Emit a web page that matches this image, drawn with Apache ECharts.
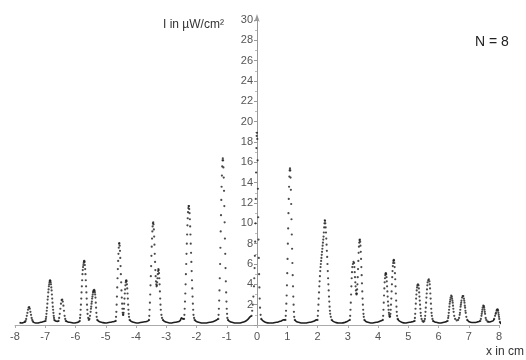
<!DOCTYPE html>
<html>
<head>
<meta charset="utf-8">
<script src="https://cdn.jsdelivr.net/npm/echarts@6/dist/echarts.min.js"></script>
<style>
  html, body { margin: 0; padding: 0; background: #fff; }
  #chart { width: 526px; height: 360px; }
</style>
</head>
<body>
<div id="chart"></div>
<script>
// x in cm, I in uW/cm^2
const peakA = [[-7.67,0.3],[-7.65,0.4],[-7.63,0.6],[-7.61,0.9],[-7.59,1.2],[-7.57,1.5],[-7.55,1.7],[-7.53,1.75],[-7.51,1.6],[-7.49,1.3],[-7.47,1.0],[-7.45,0.7],[-7.43,0.5],[-7.41,0.35]];
const peakB = [[-6.99,0.4],[-6.98,0.6],[-6.97,0.8],[-6.96,1.1],[-6.95,1.4],[-6.94,1.7],[-6.93,2.1],[-6.92,2.5],[-6.91,2.8],[-6.90,3.2],[-6.89,3.5],[-6.88,3.8],[-6.87,4.0],[-6.86,4.2],[-6.85,4.35],[-6.84,4.4],[-6.83,4.35],[-6.82,4.2],[-6.81,4.0],[-6.80,3.7],[-6.79,3.4],[-6.78,3.0],[-6.77,2.6],[-6.76,2.2],[-6.75,1.8],[-6.74,1.5],[-6.73,1.2],[-6.72,0.9],[-6.71,0.7],[-6.70,0.5]];
const peakC = [[-6.56,0.4],[-6.54,0.7],[-6.52,1.1],[-6.50,1.6],[-6.48,2.1],[-6.46,2.45],[-6.44,2.5],[-6.42,2.3],[-6.40,1.9],[-6.38,1.4],[-6.36,0.9],[-6.34,0.6],[-6.32,0.4]];
const peakDE = [[-5.86,0.4],[-5.85,0.7],[-5.84,1.0],[-5.83,1.5],[-5.82,2.0],[-5.81,2.6],[-5.80,3.2],[-5.79,3.8],[-5.78,4.4],[-5.77,5.0],[-5.76,5.4],[-5.75,5.7],[-5.74,5.9],[-5.73,6.1],[-5.72,6.25],[-5.71,6.3],[-5.70,6.2],[-5.69,5.9],[-5.68,5.5],[-5.67,5.0],[-5.66,4.4],[-5.65,3.8],[-5.64,3.2],[-5.63,2.6],[-5.62,2.0],[-5.61,1.5],[-5.60,1.1],[-5.58,0.7],[-5.56,0.5],[-5.54,0.6],[-5.52,0.9],[-5.50,1.3],[-5.49,1.6],[-5.48,1.8],[-5.47,2.1],[-5.46,2.3],[-5.45,2.6],[-5.44,2.8],[-5.43,3.0],[-5.42,3.2],[-5.41,3.3],[-5.40,3.4],[-5.38,3.45],[-5.37,3.35],[-5.36,3.2],[-5.35,3.0],[-5.34,2.7],[-5.33,2.2],[-5.32,1.7],[-5.31,1.2],[-5.30,0.8],[-5.28,0.5]];
const peakFG = [[-4.67,0.4],[-4.66,0.8],[-4.65,1.3],[-4.64,2.0],[-4.63,2.8],[-4.62,3.7],[-4.61,4.6],[-4.60,5.5],[-4.59,6.3],[-4.58,7.0],[-4.57,7.6],[-4.56,8.0],[-4.55,8.05],[-4.54,7.8],[-4.53,7.3],[-4.52,6.6],[-4.51,5.8],[-4.50,5.0],[-4.49,4.2],[-4.48,3.4],[-4.47,2.7],[-4.46,2.1],[-4.45,1.6],[-4.44,1.2],[-4.43,1.0],[-4.42,1.0],[-4.41,1.2],[-4.40,1.6],[-4.39,2.1],[-4.38,2.6],[-4.37,3.1],[-4.36,3.5],[-4.35,3.9],[-4.34,4.2],[-4.33,4.35],[-4.32,4.4],[-4.31,4.3],[-4.30,4.0],[-4.29,3.6],[-4.28,3.1],[-4.27,2.6],[-4.26,2.0],[-4.25,1.5],[-4.24,1.1],[-4.23,0.8],[-4.21,0.5]];
const peakHI = [[-3.57,0.5],[-3.56,0.9],[-3.55,1.5],[-3.54,2.2],[-3.53,3.0],[-3.52,3.9],[-3.51,4.8],[-3.50,5.8],[-3.49,6.8],[-3.48,7.7],[-3.47,8.5],[-3.46,9.2],[-3.45,9.7],[-3.44,10.0],[-3.43,10.1],[-3.42,9.9],[-3.41,9.4],[-3.40,8.7],[-3.39,7.9],[-3.38,7.0],[-3.37,6.2],[-3.36,5.4],[-3.35,4.8],[-3.34,4.3],[-3.33,4.0],[-3.32,3.8],[-3.31,3.9],[-3.30,4.2],[-3.29,4.6],[-3.28,5.0],[-3.27,5.3],[-3.26,5.5],[-3.25,5.4],[-3.24,5.1],[-3.23,4.6],[-3.22,4.0],[-3.21,3.3],[-3.20,2.6],[-3.19,2.0],[-3.18,1.5],[-3.16,1.0],[-3.14,0.7],[-3.11,0.5]];
const peakJ = [[-2.41,0.6],[-2.40,1.0],[-2.39,1.6],[-2.38,2.3],[-2.37,3.1],[-2.36,4.0],[-2.35,5.0],[-2.34,6.0],[-2.33,7.0],[-2.32,8.0],[-2.31,8.9],[-2.30,9.8],[-2.29,10.5],[-2.28,11.1],[-2.27,11.5],[-2.26,11.7],[-2.25,11.7],[-2.24,11.4],[-2.23,11.0],[-2.22,10.4],[-2.21,9.7],[-2.20,8.9],[-2.19,8.0],[-2.18,7.1],[-2.17,6.2],[-2.16,5.3],[-2.15,4.4],[-2.14,3.6],[-2.13,2.8],[-2.12,2.1],[-2.11,1.5],[-2.10,1.0],[-2.08,0.7],[-2.06,0.5]];
const peakK = [[-1.28,0.6],[-1.27,1.0],[-1.26,1.6],[-1.25,2.4],[-1.24,3.4],[-1.23,4.6],[-1.22,6.0],[-1.21,7.6],[-1.20,9.2],[-1.19,10.8],[-1.18,12.3],[-1.17,13.6],[-1.16,14.7],[-1.15,15.6],[-1.14,16.2],[-1.13,16.4],[-1.12,16.2],[-1.11,15.5],[-1.10,14.5],[-1.09,13.2],[-1.08,11.7],[-1.07,10.1],[-1.06,8.5],[-1.05,7.0],[-1.04,5.6],[-1.03,4.3],[-1.02,3.2],[-1.01,2.3],[-1.00,1.6],[-0.99,1.1],[-0.98,0.7],[-0.96,0.5]];
const peakL = [[-0.18,0.9],[-0.16,1.4],[-0.14,2.0],[-0.12,2.8],[-0.10,3.8],[-0.09,4.6],[-0.08,5.6],[-0.07,6.8],[-0.06,8.2],[-0.05,10.0],[-0.04,12.4],[-0.03,15.0],[-0.02,17.4],[-0.01,18.6],[0.00,18.9],[0.01,18.3],[0.02,16.2],[0.03,13.4],[0.04,10.6],[0.05,8.4],[0.06,6.6],[0.07,5.0],[0.08,3.7],[0.09,2.6],[0.10,1.7],[0.12,1.0],[0.14,0.6]];
const peakM = [[0.94,0.5],[0.95,0.9],[0.96,1.4],[0.97,2.1],[0.98,2.9],[0.99,3.9],[1.00,5.1],[1.01,6.5],[1.02,8.0],[1.03,9.5],[1.04,11.0],[1.05,12.4],[1.06,13.6],[1.07,14.6],[1.08,15.2],[1.09,15.4],[1.10,15.2],[1.11,14.5],[1.12,13.3],[1.13,11.9],[1.14,10.4],[1.15,8.9],[1.16,7.5],[1.17,6.1],[1.18,4.9],[1.19,3.8],[1.20,2.8],[1.21,2.0],[1.22,1.3],[1.23,0.8],[1.25,0.5]];
const peakN = [[2.00,0.5],[2.01,0.9],[2.02,1.4],[2.03,2.0],[2.04,2.6],[2.05,3.2],[2.06,3.8],[2.07,4.3],[2.08,4.8],[2.09,5.3],[2.10,5.7],[2.11,6.0],[2.12,6.3],[2.13,6.6],[2.14,6.9],[2.15,7.2],[2.16,7.5],[2.17,7.8],[2.18,8.1],[2.19,8.4],[2.20,8.7],[2.21,9.1],[2.22,9.6],[2.23,10.0],[2.24,10.3],[2.25,10.25],[2.26,10.0],[2.27,9.6],[2.28,9.1],[2.29,8.5],[2.30,7.9],[2.31,7.3],[2.32,6.7],[2.33,6.0],[2.34,5.3],[2.35,4.6],[2.36,4.0],[2.37,3.4],[2.38,2.8],[2.39,2.3],[2.40,1.8],[2.41,1.4],[2.42,1.1],[2.44,0.8],[2.47,0.5]];
const peakOP = [[3.07,0.5],[3.08,0.9],[3.09,1.5],[3.10,2.2],[3.11,3.0],[3.12,3.8],[3.13,4.6],[3.14,5.2],[3.15,5.7],[3.17,6.0],[3.19,6.2],[3.21,6.1],[3.22,5.7],[3.23,5.2],[3.24,4.7],[3.25,4.2],[3.26,3.8],[3.27,3.4],[3.28,3.1],[3.29,3.0],[3.30,3.1],[3.31,3.5],[3.32,4.0],[3.33,4.7],[3.34,5.5],[3.35,6.3],[3.36,7.1],[3.37,7.7],[3.38,8.1],[3.39,8.35],[3.40,8.4],[3.41,8.2],[3.42,7.8],[3.43,7.2],[3.44,6.5],[3.45,5.7],[3.46,4.9],[3.47,4.1],[3.48,3.3],[3.49,2.6],[3.50,2.0],[3.51,1.5],[3.52,1.1],[3.53,0.8],[3.55,0.5]];
const peakQR = [[4.16,0.5],[4.17,0.9],[4.18,1.5],[4.19,2.2],[4.20,2.9],[4.21,3.6],[4.22,4.2],[4.23,4.6],[4.24,4.9],[4.25,5.05],[4.26,5.1],[4.27,5.0],[4.28,4.7],[4.29,4.3],[4.30,3.8],[4.31,3.3],[4.32,2.8],[4.33,2.3],[4.34,1.9],[4.35,1.5],[4.36,1.2],[4.37,1.0],[4.38,0.85],[4.39,0.8],[4.40,0.85],[4.41,1.1],[4.42,1.5],[4.43,2.0],[4.44,2.6],[4.45,3.3],[4.46,4.0],[4.47,4.7],[4.48,5.3],[4.49,5.8],[4.50,6.1],[4.51,6.3],[4.52,6.4],[4.53,6.35],[4.54,6.1],[4.55,5.7],[4.56,5.1],[4.57,4.5],[4.58,3.8],[4.59,3.1],[4.60,2.4],[4.61,1.8],[4.62,1.3],[4.63,0.9],[4.65,0.6]];
const peakST = [[5.21,0.4],[5.22,0.7],[5.23,1.1],[5.24,1.6],[5.25,2.1],[5.26,2.6],[5.27,3.0],[5.28,3.4],[5.29,3.7],[5.30,3.9],[5.32,4.0],[5.34,3.9],[5.35,3.6],[5.36,3.2],[5.37,2.8],[5.38,2.4],[5.39,2.0],[5.40,1.6],[5.41,1.2],[5.42,0.9],[5.44,0.6],[5.47,0.4],[5.50,0.3],[5.53,0.4],[5.55,0.6],[5.56,0.9],[5.57,1.3],[5.58,1.7],[5.59,2.2],[5.60,2.7],[5.61,3.1],[5.62,3.5],[5.63,3.9],[5.64,4.2],[5.66,4.4],[5.68,4.5],[5.70,4.3],[5.71,4.0],[5.72,3.6],[5.73,3.1],[5.74,2.6],[5.75,2.1],[5.76,1.6],[5.77,1.2],[5.78,0.9],[5.80,0.6],[5.82,0.4]];
const peakUV = [[6.30,0.4],[6.32,0.7],[6.33,0.9],[6.34,1.2],[6.35,1.5],[6.36,1.8],[6.37,2.1],[6.38,2.3],[6.39,2.5],[6.40,2.7],[6.42,2.9],[6.44,2.8],[6.45,2.6],[6.46,2.4],[6.47,2.2],[6.48,1.9],[6.49,1.6],[6.50,1.3],[6.52,0.9],[6.55,0.6],[6.60,0.45],[6.65,0.5],[6.68,0.7],[6.70,1.0],[6.71,1.2],[6.72,1.5],[6.73,1.8],[6.74,2.0],[6.75,2.2],[6.76,2.4],[6.78,2.7],[6.80,2.85],[6.82,2.85],[6.84,2.6],[6.85,2.4],[6.86,2.2],[6.87,1.9],[6.88,1.7],[6.89,1.4],[6.90,1.2],[6.92,0.8],[6.95,0.5]];
const peakWX = [[7.38,0.4],[7.40,0.6],[7.42,0.9],[7.43,1.1],[7.44,1.3],[7.45,1.5],[7.46,1.7],[7.48,1.9],[7.50,1.85],[7.51,1.7],[7.52,1.5],[7.53,1.3],[7.54,1.1],[7.56,0.7],[7.58,0.5],[7.62,0.35],[7.84,0.6],[7.87,0.9],[7.89,1.1],[7.90,1.2],[7.92,1.4],[7.93,1.5],[7.95,1.55],[7.96,1.5],[7.97,1.4],[7.98,1.2],[7.99,1.0],[8.00,0.8],[8.01,0.6],[8.03,0.3]];

// flat stretches between the peaks, drawn as a continuous trace
const baseline = [
  [[-7.85,0.25],[-7.78,0.2],[-7.72,0.25],[-7.67,0.3]],
  [[-7.41,0.35],[-7.32,0.2],[-7.25,0.2],[-7.18,0.25],[-7.10,0.3],[-7.04,0.35],[-6.99,0.4]],
  [[-6.70,0.5],[-6.66,0.4],[-6.60,0.35],[-6.56,0.4]],
  [[-6.32,0.4],[-6.25,0.3],[-6.15,0.25],[-6.05,0.2],[-5.95,0.25],[-5.90,0.3],[-5.86,0.4]],
  [[-5.28,0.5],[-5.22,0.35],[-5.12,0.25],[-5.00,0.2],[-4.90,0.25],[-4.80,0.3],[-4.72,0.35],[-4.67,0.4]],
  [[-4.21,0.5],[-4.15,0.35],[-4.05,0.25],[-3.95,0.2],[-3.85,0.25],[-3.75,0.3],[-3.65,0.35],[-3.60,0.4],[-3.57,0.5]],
  [[-3.11,0.5],[-3.05,0.35],[-2.95,0.25],[-2.85,0.2],[-2.75,0.25],[-2.65,0.3],[-2.55,0.4],[-2.49,0.7],[-2.45,0.6],[-2.41,0.6]],
  [[-2.06,0.5],[-2.00,0.35],[-1.90,0.25],[-1.80,0.2],[-1.70,0.2],[-1.60,0.25],[-1.50,0.3],[-1.40,0.4],[-1.33,0.5],[-1.28,0.6]],
  [[-0.96,0.5],[-0.90,0.35],[-0.80,0.25],[-0.70,0.2],[-0.60,0.2],[-0.50,0.25],[-0.40,0.35],[-0.32,0.5],[-0.26,0.7],[-0.23,0.8],[-0.18,0.9]],
  [[0.14,0.6],[0.20,0.4],[0.30,0.25],[0.40,0.2],[0.50,0.2],[0.60,0.25],[0.70,0.3],[0.80,0.4],[0.88,0.5],[0.94,0.5]],
  [[1.25,0.5],[1.30,0.35],[1.40,0.25],[1.50,0.2],[1.60,0.2],[1.70,0.25],[1.80,0.3],[1.90,0.4],[1.96,0.5],[2.00,0.5]],
  [[2.47,0.5],[2.52,0.35],[2.60,0.25],[2.70,0.2],[2.80,0.2],[2.90,0.25],[2.98,0.35],[3.04,0.45],[3.07,0.5]],
  [[3.55,0.5],[3.60,0.35],[3.70,0.25],[3.80,0.2],[3.90,0.25],[4.00,0.3],[4.08,0.4],[4.13,0.45],[4.16,0.5]],
  [[4.65,0.6],[4.70,0.4],[4.80,0.25],[4.90,0.2],[5.00,0.25],[5.10,0.3],[5.17,0.35],[5.21,0.4]],
  [[5.82,0.4],[5.88,0.3],[5.95,0.25],[6.05,0.2],[6.15,0.25],[6.22,0.3],[6.27,0.35],[6.30,0.4]],
  [[6.95,0.5],[7.00,0.35],[7.10,0.25],[7.20,0.25],[7.28,0.3],[7.34,0.35],[7.38,0.4]],
  [[7.62,0.35],[7.68,0.3],[7.74,0.35],[7.80,0.4],[7.84,0.6]],
  [[8.03,0.3],[8.08,0.12],[8.18,0.1],[8.30,0.1]]
];

const xTicks = { min: -8, max: 8, step: 1 };
const yTicks = { min: 0, max: 30, step: 2 };

const peaks = [peakA, peakB, peakC, peakDE, peakFG, peakHI, peakJ, peakK, peakL, peakM, peakN, peakOP, peakQR, peakST, peakUV, peakWX];

const chart = echarts.init(document.getElementById("chart"), null, { renderer: "canvas" });

const ink = "#1e1e1e";
const labelFont = { color: "#555", fontSize: 11, fontFamily: "Liberation Sans, Arial, sans-serif" };
const gridLeft = 15, gridRight = 27;
// put the y axis on x = 0 (the middle of the plot), labels included
const yAxisShift = -(526 - gridLeft - gridRight) * (0 - xTicks.min) / (xTicks.max - xTicks.min);

chart.setOption({
    animation: false,
    grid: { left: gridLeft, right: gridRight, top: 20, bottom: 35 },
    xAxis: {
        type: "value",
        min: xTicks.min,
        max: xTicks.max,
        interval: xTicks.step,
        axisLine: { onZero: true, lineStyle: { color: "#aaa", width: 1 } },
        axisTick: { show: true, length: 3, lineStyle: { color: "#aaa" } },
        axisLabel: Object.assign({ margin: 6 }, labelFont),
        splitLine: { show: false }
    },
    yAxis: {
        type: "value",
        min: yTicks.min,
        max: yTicks.max,
        interval: yTicks.step,
        position: "left",
        offset: yAxisShift,
        axisLine: {
            show: true,
            onZero: false,
            symbol: ["none", "arrow"],
            symbolSize: [4, 8],
            symbolOffset: [0, 6],
            lineStyle: { color: "#999", width: 1 }
        },
        axisTick: { show: true, length: 3, lineStyle: { color: "#999" } },
        minorTick: { show: true, splitNumber: 2, length: 2, lineStyle: { color: "#bbb" } },
        axisLabel: Object.assign({
            margin: 4,
            formatter: v => (v === 0 ? "" : String(v))
        }, labelFont),
        splitLine: { show: false }
    },
    graphic: [
        {
            type: "text", left: 163, top: 19,
            style: { text: "I in \u00b5W/cm\u00b2", fill: "#333", font: "12px Liberation Sans, Arial, sans-serif" }
        },
        {
            type: "text", left: 475, top: 35,
            style: { text: "N = 8", fill: "#222", font: "14px Liberation Sans, Arial, sans-serif" }
        },
        {
            type: "text", right: 2, top: 346,
            style: { text: "x in cm", fill: "#333", font: "12px Liberation Sans, Arial, sans-serif" }
        }
    ],
    series: baseline.map(seg => ({
        type: "line",
        data: seg,
        smooth: true,
        showSymbol: false,
        clip: false,
        silent: true,
        lineStyle: { color: ink, width: 1.6 }
    })).concat([{
        type: "scatter",
        data: [].concat(...peaks),
        symbol: "circle",
        symbolSize: 2.2,
        clip: false,
        silent: true,
        itemStyle: { color: ink }
    }])
});
</script>
</body>
</html>
